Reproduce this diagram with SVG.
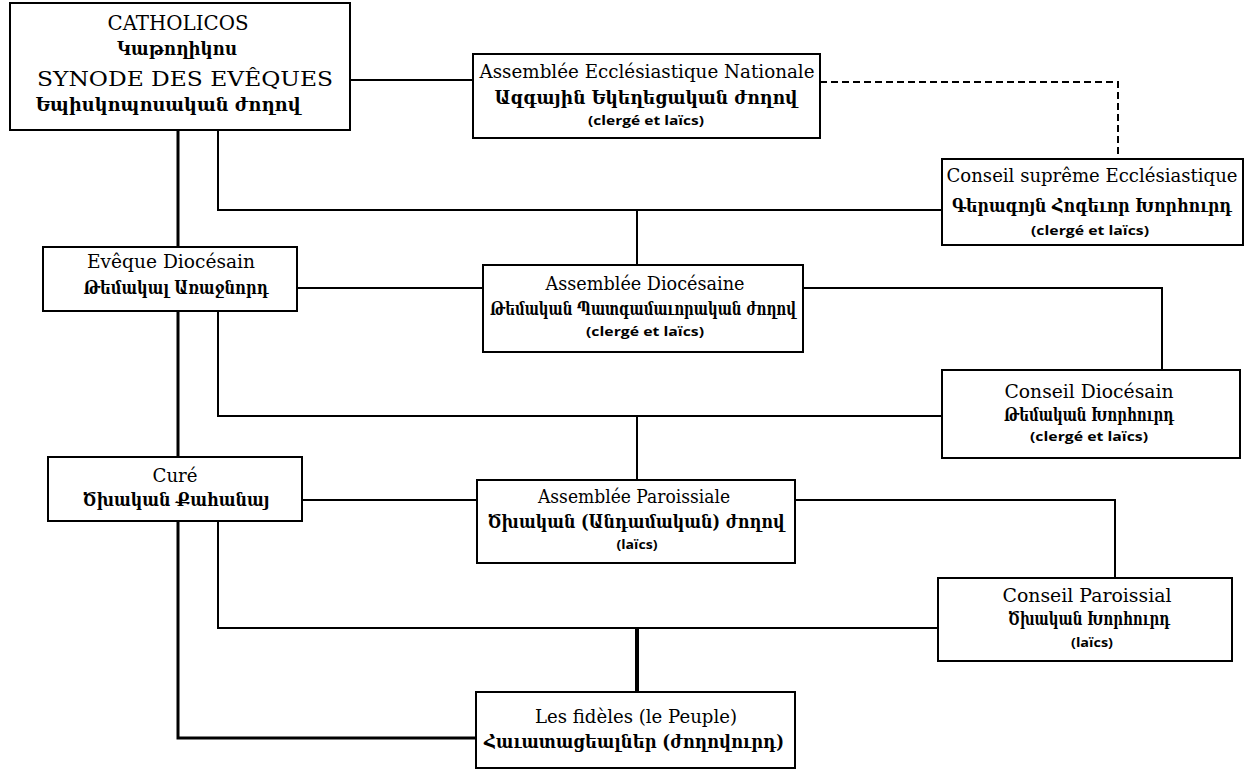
<svg xmlns="http://www.w3.org/2000/svg" width="1248" height="770" viewBox="0 0 1248 770">
<style>
.box{fill:#fff;stroke:#000;stroke-width:2}
.lat{font-family:"DejaVu Serif","Liberation Serif",serif;font-size:18px;text-anchor:middle;fill:#000}
.big{font-size:20px}
.arm{font-family:"DejaVu Serif","DejaVu Sans",sans-serif;font-weight:bold;font-size:18px;text-anchor:middle;fill:#000}
.sm{font-family:"Open Sans","Liberation Sans",sans-serif;font-weight:bold;font-size:12.5px;text-anchor:middle;fill:#000}
.ln{fill:none;stroke:#000;stroke-width:2}
.thick{stroke-width:3}
.thicker{stroke-width:4}
.dash{stroke-dasharray:7 4}
</style>
<rect width="1248" height="770" fill="#fff"/>
<g id="connectors">
<path class="ln" d="M350 80H473"/>
<path class="ln dash" d="M820 82H1118V159"/>
<path class="ln thick" d="M178 130V247M178 311V457M178 521V738H476"/>
<path class="ln" d="M218 130V210H942"/>
<path class="ln" d="M637 210V265"/>
<path class="ln" d="M297 288H483"/>
<path class="ln" d="M803 288H1162V370"/>
<path class="ln" d="M218 311V416H942"/>
<path class="ln" d="M637 416V480"/>
<path class="ln" d="M302 500H477"/>
<path class="ln" d="M795 500H1115V578"/>
<path class="ln" d="M218 521V628H938"/>
<path class="ln thicker" d="M637 628V692"/>
</g>
<g id="catholicos">
<rect class="box" x="10" y="3" width="340" height="127"/>
<text class="lat big" x="178" y="30" textLength="141" lengthAdjust="spacingAndGlyphs">CATHOLICOS</text>
<text class="arm" x="177" y="55" textLength="120" lengthAdjust="spacingAndGlyphs">Կաթողիկոս</text>
<text class="lat big" x="185" y="86" textLength="296" lengthAdjust="spacingAndGlyphs">SYNODE DES EVÊQUES</text>
<text class="arm" x="168" y="111" textLength="265" lengthAdjust="spacingAndGlyphs">Եպիսկոպոսական  ժողով</text>
</g>
<g id="assemblee-nationale">
<rect class="box" x="473" y="54" width="347" height="84"/>
<text class="lat" x="647" y="78" textLength="335" lengthAdjust="spacingAndGlyphs">Assemblée Ecclésiastique Nationale</text>
<text class="arm" x="646" y="104" textLength="303" lengthAdjust="spacingAndGlyphs">Ազգային  Եկեղեցական  ժողով</text>
<text class="sm" x="646" y="125" textLength="116" lengthAdjust="spacingAndGlyphs">(clergé et laïcs)</text>
</g>
<g id="conseil-supreme">
<rect class="box" x="942" y="159" width="301" height="86"/>
<text class="lat" x="1092" y="182" textLength="291" lengthAdjust="spacingAndGlyphs">Conseil suprême Ecclésiastique</text>
<text class="arm" x="1092" y="212" font-size="14" textLength="280" lengthAdjust="spacingAndGlyphs">Գերագոյն Հոգեւոր Խորհուրդ</text>
<text class="sm" x="1090" y="235" textLength="118" lengthAdjust="spacingAndGlyphs">(clergé et laïcs)</text>
</g>
<g id="eveque">
<rect class="box" x="43" y="247" width="254" height="64"/>
<text class="lat" x="171" y="268" textLength="168" lengthAdjust="spacingAndGlyphs">Evêque Diocésain</text>
<text class="arm" x="176" y="294" textLength="185" lengthAdjust="spacingAndGlyphs">Թեմակալ  Առաջնորդ</text>
</g>
<g id="assemblee-diocesaine">
<rect class="box" x="483" y="265" width="320" height="87"/>
<text class="lat" x="645" y="290" textLength="199" lengthAdjust="spacingAndGlyphs">Assemblée Diocésaine</text>
<text class="arm" x="643" y="315" textLength="306" lengthAdjust="spacingAndGlyphs">Թեմական  Պատգամաւորական  ժողով</text>
<text class="sm" x="645" y="336" textLength="118" lengthAdjust="spacingAndGlyphs">(clergé et laïcs)</text>
</g>
<g id="conseil-diocesain">
<rect class="box" x="942" y="370" width="298" height="88"/>
<text class="lat" x="1089" y="398" textLength="169" lengthAdjust="spacingAndGlyphs">Conseil Diocésain</text>
<text class="arm" x="1089" y="421" textLength="170" lengthAdjust="spacingAndGlyphs">Թեմական  Խորհուրդ</text>
<text class="sm" x="1089" y="441" textLength="118" lengthAdjust="spacingAndGlyphs">(clergé et laïcs)</text>
</g>
<g id="cure">
<rect class="box" x="48" y="457" width="254" height="64"/>
<text class="lat" x="175" y="482" textLength="45" lengthAdjust="spacingAndGlyphs">Curé</text>
<text class="arm" x="176" y="506" textLength="187" lengthAdjust="spacingAndGlyphs">Ծխական  Քահանայ</text>
</g>
<g id="assemblee-paroissiale">
<rect class="box" x="477" y="480" width="318" height="83"/>
<text class="lat" x="634" y="503" textLength="192" lengthAdjust="spacingAndGlyphs">Assemblée Paroissiale</text>
<text class="arm" x="636" y="528" textLength="297" lengthAdjust="spacingAndGlyphs">Ծխական  (Անդամական)  ժողով</text>
<text class="sm" x="637" y="549" textLength="41" lengthAdjust="spacingAndGlyphs">(laïcs)</text>
</g>
<g id="conseil-paroissial">
<rect class="box" x="938" y="578" width="294" height="83"/>
<text class="lat" x="1087" y="602" textLength="169" lengthAdjust="spacingAndGlyphs">Conseil Paroissial</text>
<text class="arm" x="1089" y="625" textLength="162" lengthAdjust="spacingAndGlyphs">Ծխական  Խորհուրդ</text>
<text class="sm" x="1092" y="647" textLength="42" lengthAdjust="spacingAndGlyphs">(laïcs)</text>
</g>
<g id="fideles">
<rect class="box" x="476" y="692" width="319" height="76"/>
<text class="lat" x="636" y="723" textLength="202" lengthAdjust="spacingAndGlyphs">Les fidèles (le Peuple)</text>
<text class="arm" x="634" y="748" textLength="300" lengthAdjust="spacingAndGlyphs">Հաւատացեալներ  (ժողովուրդ)</text>
</g>
</svg>
